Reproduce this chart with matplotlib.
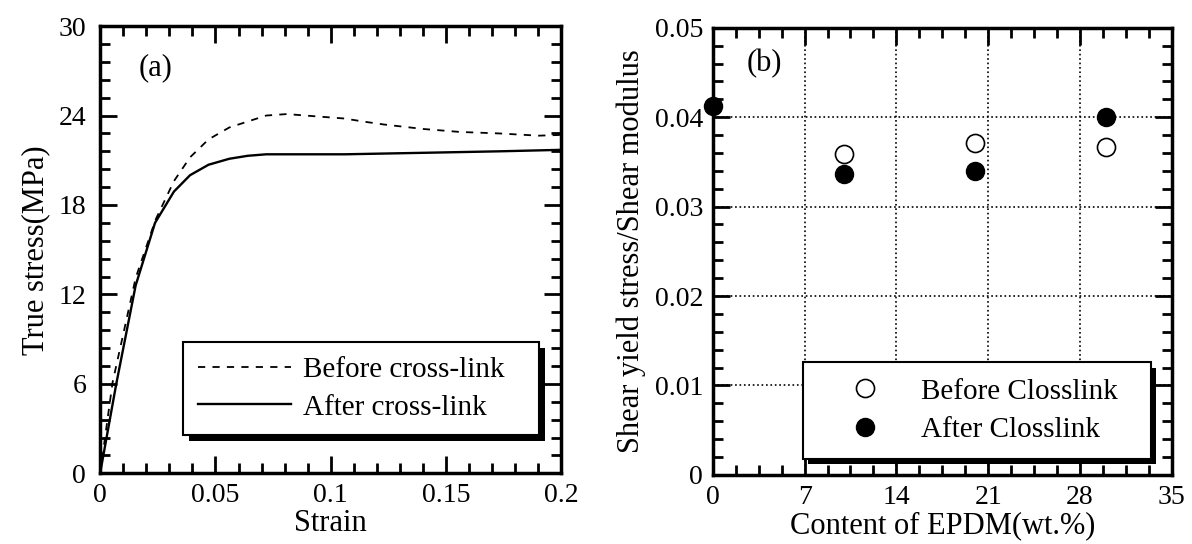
import matplotlib
matplotlib.use('Agg')
import matplotlib.pyplot as plt
import matplotlib.patheffects as pe
from matplotlib.ticker import MultipleLocator, FuncFormatter

# (a) stress-strain curves
strain_before = [0, 0.0054, 0.0154, 0.024, 0.032, 0.039, 0.047, 0.056, 0.064, 0.072, 0.081,
                 0.089, 0.106, 0.114, 0.123, 0.14, 0.156, 0.173, 0.19, 0.2]
stress_before = [0, 6.1, 13.1, 17.0, 19.6, 21.2, 22.4, 23.2, 23.6, 24.0, 24.1,
                 24.0, 23.8, 23.6, 23.4, 23.1, 22.9, 22.8, 22.65, 22.7]
strain_after = [0, 0.007, 0.0154, 0.0238, 0.032, 0.039, 0.047, 0.056, 0.064, 0.072,
                0.106, 0.14, 0.173, 0.2]
stress_after = [0, 6.0, 12.6, 16.8, 18.9, 20.0, 20.7, 21.1, 21.3, 21.4,
                21.4, 21.5, 21.6, 21.7]

# (b) shear yield stress / shear modulus
epdm_before = [10, 20, 30]
ratio_before = [0.0359, 0.0371, 0.0367]
epdm_after = [0, 10, 20, 30]
ratio_after = [0.0413, 0.0336, 0.0340, 0.0400]

plt.rcParams['font.family'] = ['Liberation Serif', 'DejaVu Serif']
plt.rcParams['font.size'] = 20

fig = plt.figure(figsize=(11.92, 5.44), dpi=100)
ax1 = fig.add_axes([0.084, 0.130, 0.387, 0.822])
ax2 = fig.add_axes([0.598, 0.127, 0.385, 0.822])


def style_axes(ax, ypad):
    for s in ax.spines.values():
        s.set_linewidth(2.5)
    ax.tick_params(which='both', direction='in', top=True, right=True, width=2,
                   labelsize=20)
    ax.tick_params(axis='x', pad=7)
    ax.tick_params(axis='y', pad=ypad)
    ax.tick_params(which='major', length=12)
    ax.tick_params(which='minor', length=7)


def num_fmt(v, pos):
    if abs(v) < 1e-12:
        return '0'
    return ('%.3f' % v).rstrip('0').rstrip('.')


def shadowed(leg):
    frame = leg.get_frame()
    frame.set_edgecolor('black')
    frame.set_linewidth(1.5)
    frame.set_alpha(1)
    frame.set_path_effects([pe.SimplePatchShadow(offset=(4, -4), shadow_rgbFace='black', alpha=1),
                            pe.Normal()])


# ---- panel (a)
ax1.plot(strain_before, stress_before, color='black', lw=1.3, ls=(0, (4, 4)),
         label='Before cross-link')
ax1.plot(strain_after, stress_after, color='black', lw=1.7, label='After cross-link')
ax1.set_xlim(0, 0.2)
ax1.set_ylim(0, 30)
ax1.xaxis.set_major_locator(MultipleLocator(0.05))
ax1.xaxis.set_minor_locator(MultipleLocator(0.01))
ax1.yaxis.set_major_locator(MultipleLocator(6))
ax1.yaxis.set_minor_locator(MultipleLocator(1.2))
ax1.xaxis.set_major_formatter(FuncFormatter(num_fmt))
style_axes(ax1, 10)
ax1.set_xlabel('Strain', fontsize=22, labelpad=1)
ax1.set_ylabel('True stress(MPa)', fontsize=22, labelpad=6)
ax1.text(0.024, 27.2, '(a)', fontsize=22, ha='center', va='center')
leg1 = ax1.legend(loc='lower left', bbox_to_anchor=(0.180, 0.085, 0.772, 0.22),
                  mode='expand', fontsize=21, frameon=True, fancybox=False,
                  handlelength=3.2, borderaxespad=0, labelspacing=0.38,
                  handletextpad=0.4, borderpad=0.5)
shadowed(leg1)

# ---- panel (b)
ax2.plot(epdm_before, ratio_before, ls='none', marker='o', ms=13, mfc='white',
         mec='black', mew=1.2, label='Before Closslink', clip_on=False, zorder=3)
ax2.plot(epdm_after, ratio_after, ls='none', marker='o', ms=13, mfc='black',
         mec='black', label='After Closslink', clip_on=False, zorder=3)
ax2.set_xlim(0, 35)
ax2.set_ylim(0, 0.05)
ax2.xaxis.set_major_locator(MultipleLocator(7))
ax2.xaxis.set_minor_locator(MultipleLocator(1.75))
ax2.yaxis.set_major_locator(MultipleLocator(0.01))
ax2.yaxis.set_minor_locator(MultipleLocator(0.002))
ax2.yaxis.set_major_formatter(FuncFormatter(num_fmt))
ax2.grid(True, which='major', color='black', ls=':', lw=1.2)
style_axes(ax2, 7)
ax2.set_xlabel('Content of EPDM(wt.%)', fontsize=22, labelpad=1)
ax2.set_ylabel('Shear yield stress/Shear modulus', fontsize=22, labelpad=6)
ax2.text(3.9, 0.046, '(b)', fontsize=22, ha='center', va='center')
leg2 = ax2.legend(loc='lower left', bbox_to_anchor=(0.196, 0.036, 0.758, 0.23),
                  mode='expand', fontsize=21, frameon=True, fancybox=False,
                  handlelength=3.2, borderaxespad=0, labelspacing=0.4,
                  handletextpad=0.3, borderpad=0.55)
shadowed(leg2)

fig.savefig('out.png', dpi=100)
